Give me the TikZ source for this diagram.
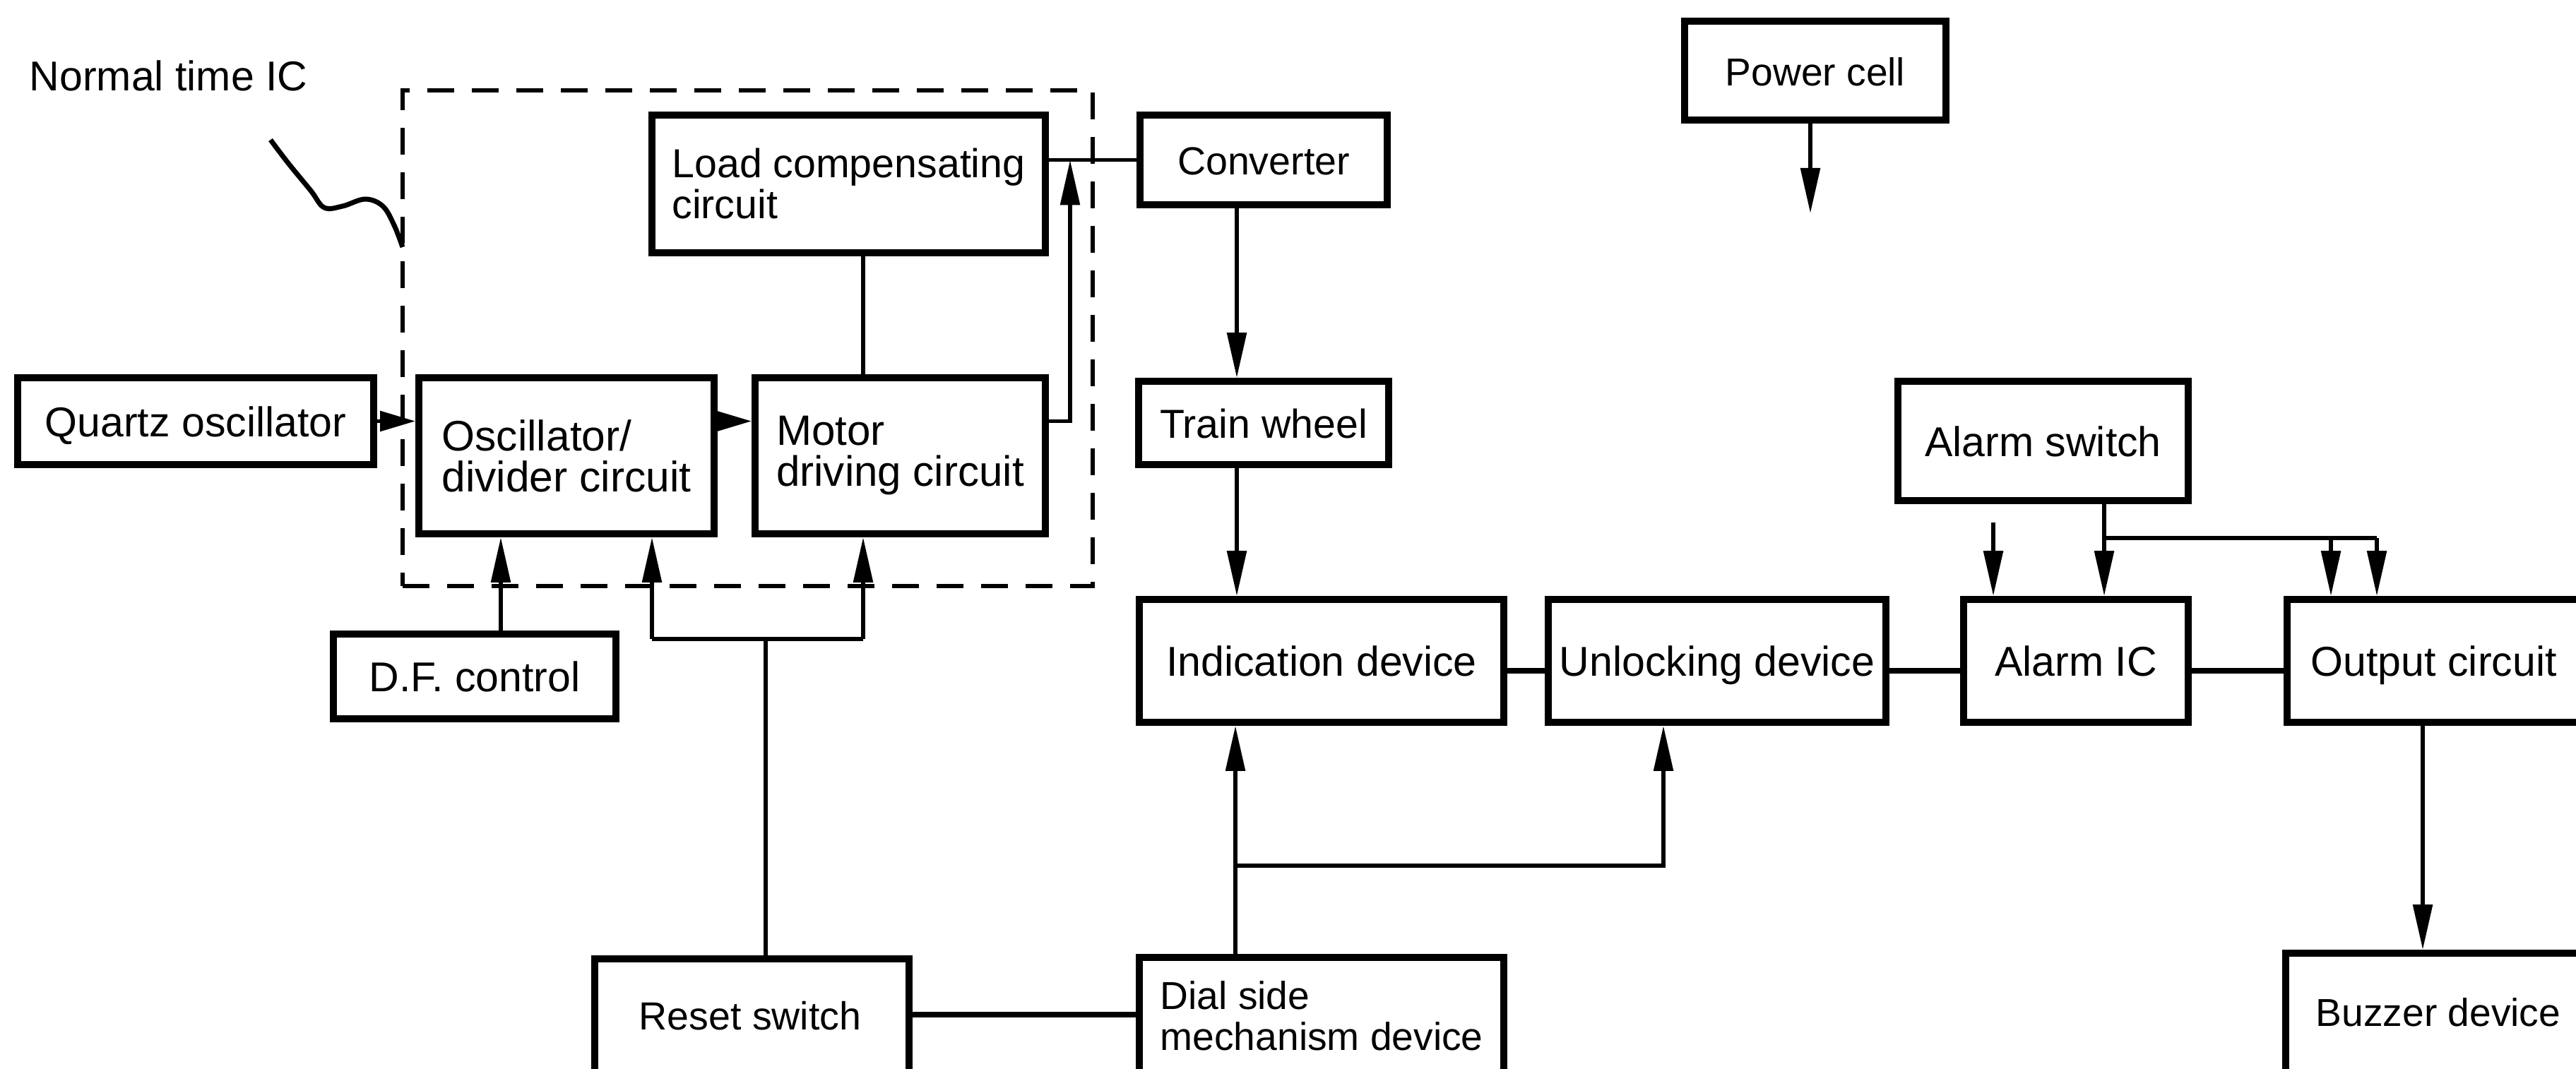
\documentclass[tikz,border=0pt]{standalone}
\usepackage{fontspec}
\setmainfont{Liberation Sans}
\usetikzlibrary{arrows.meta}
\newcommand{\fsz}[1]{\fontsize{#1}{16.5}\selectfont}
\begin{document}
\begin{tikzpicture}[x=1cm,y=-1cm,
  box/.style={draw, line width=2.8pt, rectangle, inner sep=0pt, align=left, font=\fsz{16.8}},
  one/.style={text height=0.43cm, text depth=0cm},
  lbl/.style={inner sep=0pt, align=left, font=\fsz{16.8}},
  conn/.style={line width=1.6pt},
  thk/.style={line width=2.4pt},
  arr/.style={conn, -{Triangle[length=0.64cm,width=0.27cm]}},
  sarr/.style={conn, -{Triangle[length=0.5cm,width=0.28cm]}},
  icdash/.style={draw, line width=1.5pt, dash pattern=on 0.38cm off 0.25cm, inner sep=0pt},
]
\useasboundingbox (0,0) rectangle (36.47,15.13);
\clip (0,0) rectangle (36.47,15.13);

% dashed IC outline
\node[icdash, minimum width=9.77cm, minimum height=7.02cm] (icbox) at (10.585,4.79) {};
\node[lbl, anchor=west] (ictxt) at (0.41,1.07) {Normal time IC};
\draw[line width=2pt] plot[smooth, tension=0.6] coordinates {(3.83,1.98) (4.08,2.31) (4.40,2.70) (4.59,2.94) (4.85,2.92) (5.17,2.82) (5.42,2.92) (5.58,3.19) (5.70,3.50)};

% boxes
\node[box, one, minimum width=5.04cm, minimum height=1.23cm] (quartz) at (2.77,5.965) {Quartz oscillator};
\node[box, minimum width=4.18cm, minimum height=2.21cm, font=\fsz{17.2}] (osc) at (8.02,6.455) {Oscillator/\\divider circuit};
\node[box, minimum width=4.11cm, minimum height=2.21cm, font=\fsz{17.1}] (motor) at (12.745,6.455) {Motor\\driving circuit};
\node[box, minimum width=5.57cm, minimum height=1.95cm, font=\fsz{16.3}] (load) at (12.015,2.605) {Load compensating\\circuit};
\node[box, one, minimum width=3.50cm, minimum height=1.27cm, font=\fsz{15.8}] (converter) at (17.89,2.265) {Converter};
\node[box, one, minimum width=3.70cm, minimum height=1.40cm, font=\fsz{15.7}] (power) at (25.70,1.00) {Power cell};
\node[box, one, minimum width=3.54cm, minimum height=1.18cm, font=\fsz{16.3}] (train) at (17.89,5.99) {Train wheel};
\node[box, one, minimum width=4.11cm, minimum height=1.69cm] (alarmsw) at (28.925,6.245) {Alarm switch};
\node[box, one, minimum width=5.16cm, minimum height=1.74cm] (indic) at (18.71,9.36) {Indication device};
\node[box, one, minimum width=4.78cm, minimum height=1.74cm] (unlock) at (24.31,9.36) {Unlocking device};
\node[box, one, minimum width=3.18cm, minimum height=1.74cm] (alarmic) at (29.39,9.36) {Alarm IC};
\node[box, minimum width=4.62cm, minimum height=1.74cm] (output) at (34.69,9.36) {};
\node[lbl, one, anchor=west] (outputtxt) at (32.71,9.36) {Output circuit};
\node[box, one, minimum width=4.00cm, minimum height=1.20cm] (dfc) at (6.72,9.58) {D.F. control};
\node[box, minimum width=4.45cm, minimum height=2.60cm] (reset) at (10.645,14.88) {};
\node[lbl, one, font=\fsz{15.8}] (resettxt) at (10.62,14.37) {Reset switch};
\node[box, minimum width=5.16cm, minimum height=2.60cm] (dial) at (18.71,14.86) {};
\node[lbl, anchor=west, font=\fsz{15.7}] (dialtxt) at (16.42,14.385) {Dial side\\mechanism device};
\node[box, minimum width=4.64cm, minimum height=2.60cm] (buzzer) at (34.68,14.80) {};
\node[lbl, one, anchor=west, font=\fsz{15.7}] (buzzertxt) at (32.78,14.32) {Buzzer device};

% helper coordinates
\coordinate (jn) at (15.15,2.265);
\coordinate (lm) at (12.22,0);
\coordinate (cw) at (17.51,0);
\coordinate (pw) at (25.63,3.02);
\coordinate (af) at (28.22,7.40);
\coordinate (as) at (29.79,7.62);
\coordinate (o1) at (33.00,7.62);
\coordinate (o2) at (33.65,7.62);
\coordinate (hl) at (0,9.50);
\coordinate (ob) at (34.30,0);
\coordinate (dx) at (17.49,12.26);
\coordinate (ux) at (23.55,12.26);
\coordinate (rs) at (10.84,9.05);
\coordinate (r1) at (9.23,9.05);
\coordinate (r2) at (12.22,9.05);
\coordinate (dfx) at (7.09,0);
\coordinate (rd) at (0,14.37);

% connectors
\draw[sarr] (quartz.east) -- (osc.west |- quartz.east);
\draw[sarr] (osc.east |- quartz.east) -- (motor.west |- quartz.east);
\draw[conn] (load.east |- converter.west) -- (converter.west);
\draw[arr] (motor.east |- quartz.east) -| (jn);
\draw[conn] (load.south -| lm) -- (motor.north -| lm);
\draw[arr] (converter.south -| cw) -- (train.north -| cw);
\draw[arr] (train.south -| cw) -- (indic.north -| cw);
\draw[arr] (power.south -| pw) -- (pw);
\draw[arr] (af) -- (alarmic.north -| af);
\draw[arr] (alarmsw.south -| as) -- (alarmic.north -| as);
\draw[conn] (as) -- (o2);
\draw[arr] (o1) -- (output.north -| o1);
\draw[arr] (o2) -- (output.north -| o2);
\draw[thk] (indic.east |- hl) -- (unlock.west |- hl);
\draw[thk] (unlock.east |- hl) -- (alarmic.west |- hl);
\draw[thk] (alarmic.east |- hl) -- (output.west |- hl);
\draw[arr] (output.south -| ob) -- (buzzer.north -| ob);
\draw[arr] (dial.north -| dx) -- (indic.south -| dx);
\draw[arr] (dx) -| (unlock.south -| ux);
\draw[conn] (reset.north -| rs) -- (rs);
\draw[conn] (r1) -- (r2);
\draw[arr] (r1) -- (osc.south -| r1);
\draw[arr] (r2) -- (motor.south -| r2);
\draw[arr] (dfc.north -| dfx) -- (osc.south -| dfx);
\draw[thk] (reset.east |- rd) -- (dial.west |- rd);
\end{tikzpicture}
\end{document}
